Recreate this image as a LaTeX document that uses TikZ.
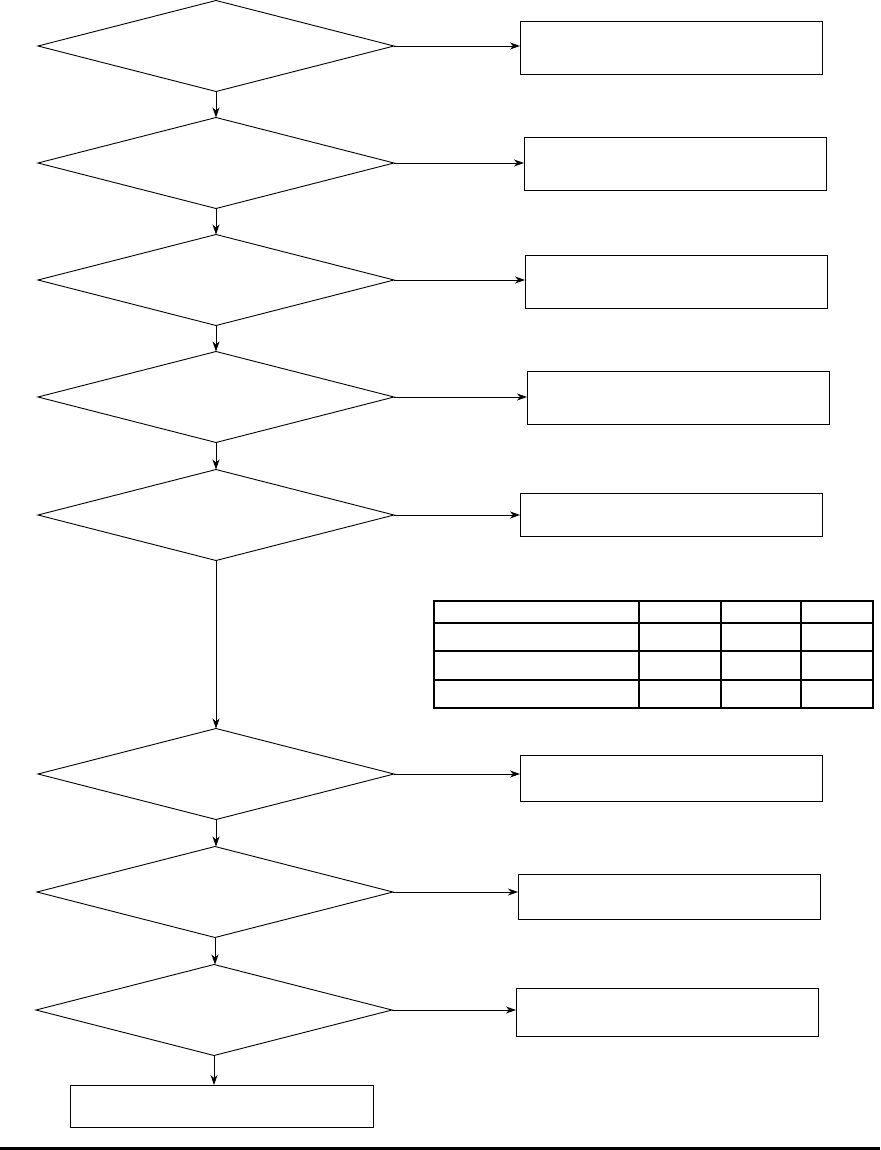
\documentclass[tikz,border=0pt]{standalone}
\usetikzlibrary{arrows.meta,shapes.geometric}

\begin{document}
\begin{tikzpicture}[
  x=1pt,y=-1pt,
  line width=0.9pt,
  >={Stealth[length=10pt,width=7pt,inset=3pt]},
  decision/.style={draw,diamond,aspect=3.9,minimum width=356pt,minimum height=91pt,
                   inner sep=0pt,outer sep=0pt},
  result/.style  ={draw,rectangle,minimum width=302pt,minimum height=53pt,
                   inner sep=0pt,outer sep=0pt},
  arrow/.style={->,line width=0.9pt},
  grid/.style ={line width=1.3pt},
]
\useasboundingbox (0,0) rectangle (880,1150);

%% ===== Decisions ==============================================================
\node[decision] (d1) at (216,46)   {};
\node[decision] (d2) at (216,163)  {};
\node[decision] (d3) at (216,280)  {};
\node[decision] (d4) at (216,397)  {};
\node[decision] (d5) at (216,515)  {};
\node[decision] (d6) at (216,774)  {};
\node[decision] (d7) at (215,892)  {};
\node[decision] (d8) at (214,1010) {};

%% ===== Results ================================================================
\node[result] (r1) at (671,47.5)  {};
\node[result] (r2) at (675,164)   {};
\node[result] (r3) at (676,281.5) {};
\node[result] (r4) at (678,398)   {};
\node[result,minimum height=43pt] (r5) at (671,514.5) {};
\node[result,minimum height=46pt] (r6) at (671,778)   {};
\node[result,minimum height=45pt] (r7) at (669,896.5) {};
\node[result,minimum height=48pt] (r8) at (667,1012)  {};
\node[result,minimum width=303pt,minimum height=42pt] (end) at (221.5,1106) {};

%% ===== Arrows =================================================================
\foreach \a/\b in {d1/d2, d2/d3, d3/d4, d4/d5, d5/d6, d6/d7, d7/d8} {
  \draw[arrow] (\a.south) -- (\a.south |- \b.north);
}
\foreach \i in {1,...,8} {
  \draw[arrow] (d\i.east) -- (d\i.east -| r\i.west);
}
\draw[arrow] (d8.south) -- (d8.south |- end.north);

%% ===== Table ==================================================================
\draw[grid] (434,601) rectangle (873,708);
\foreach \y in {623,651,680} {
  \draw[grid] (434,\y) -- (873,\y);
}
\foreach \x in {639,721,801} {
  \draw[grid] (\x,601) -- (\x,708);
}

%% ===== Bottom rule ============================================================
\draw[line width=3pt] (0,1148) -- (880,1148);

\end{tikzpicture}
\end{document}
